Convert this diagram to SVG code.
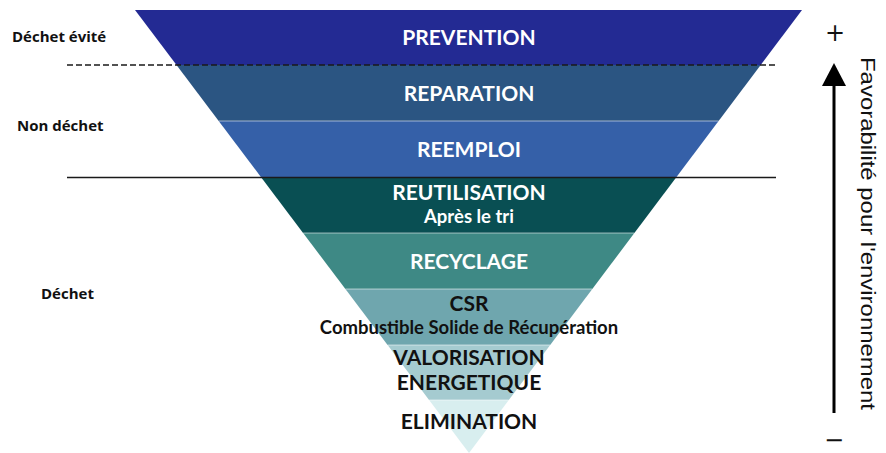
<svg xmlns="http://www.w3.org/2000/svg" width="886" height="453" viewBox="0 0 886 453">
  <style>
    .band-label { font-family: Lato, "Open Sans", sans-serif; font-weight: 700; font-size: 21px; text-anchor: middle; }
    .sub-label { font-family: Lato, "Open Sans", sans-serif; font-weight: 700; font-size: 18.5px; text-anchor: middle; }
    .light { fill: #ffffff; }
    .dark { fill: #111111; }
    .side { font-family: "Open Sans", "Liberation Sans", sans-serif; font-weight: 700; font-size: 15px; fill: #111111; }
    .sep { stroke: #ffffff; stroke-opacity: 0.55; stroke-width: 1.2; }
    .sign { font-family: "DejaVu Sans", sans-serif; font-size: 24px; text-anchor: middle; fill: #111111; }
  </style>
  <rect width="886" height="453" fill="#ffffff"/>

  <!-- pyramid bands, top to bottom -->
  <g id="prevention">
    <polygon points="135,10 802,10 760.7,65 176.5,65" fill="#232a93"/>
    <text class="band-label light" x="469" y="45">PREVENTION</text>
  </g>
  <g id="reparation">
    <polygon points="176.5,65 760.7,65 718.6,121 218.7,121" fill="#2b5582"/>
    <text class="band-label light" x="469" y="101">REPARATION</text>
  </g>
  <g id="reemploi">
    <polygon points="218.7,121 718.6,121 676.5,177 260.9,177" fill="#3560a8"/>
    <text class="band-label light" x="469" y="157">REEMPLOI</text>
  </g>
  <g id="reutilisation">
    <polygon points="260.9,177 676.5,177 634.4,233 303.1,233" fill="#094f53"/>
    <text class="band-label light" x="469" y="200">REUTILISATION</text>
    <text class="sub-label light" x="469" y="223">Après le tri</text>
  </g>
  <g id="recyclage">
    <polygon points="303.1,233 634.4,233 592.3,289 345.4,289" fill="#3e8985"/>
    <text class="band-label light" x="469" y="269">RECYCLAGE</text>
  </g>
  <g id="csr">
    <polygon points="345.4,289 592.3,289 550.2,345 387.6,345" fill="#6fa6ae"/>
    <text class="band-label dark" x="469" y="311">CSR</text>
    <text class="sub-label dark" x="469" y="334">Combustible Solide de Récupération</text>
  </g>
  <g id="valorisation">
    <polygon points="387.6,345 550.2,345 508.8,400 429.1,400" fill="#a5cbd0"/>
    <text class="band-label dark" x="469" y="365">VALORISATION</text>
    <text class="band-label dark" x="469" y="390">ENERGETIQUE</text>
  </g>
  <g id="elimination">
    <polygon points="429.1,400 508.8,400 469,453" fill="#d8eeef"/>
    <text class="band-label dark" x="469" y="429">ELIMINATION</text>
  </g>

  <!-- thin separators between bands -->
  <g id="separators">
    <line class="sep" x1="218.7" y1="121" x2="718.6" y2="121"/>
    <line class="sep" x1="303.1" y1="233" x2="634.4" y2="233"/>
    <line class="sep" x1="345.4" y1="289" x2="592.3" y2="289"/>
    <line class="sep" x1="387.6" y1="345" x2="550.2" y2="345"/>
    <line class="sep" x1="429.1" y1="400" x2="508.8" y2="400"/>
  </g>

  <!-- category boundaries -->
  <g id="connectors">
    <line x1="67" y1="65" x2="776" y2="65" stroke="#1a1a1a" stroke-width="1.6" stroke-dasharray="6 3"/>
    <line x1="67" y1="177.5" x2="776" y2="177.5" stroke="#1a1a1a" stroke-width="1.6"/>
  </g>

  <!-- category labels -->
  <g id="categories">
    <text class="side" x="12" y="42">Déchet évité</text>
    <text class="side" x="17" y="131">Non déchet</text>
    <text class="side" x="41" y="299">Déchet</text>
  </g>

  <!-- environmental preference scale -->
  <g id="scale">
    <line x1="834" y1="413" x2="834" y2="84" stroke="#000000" stroke-width="3"/>
    <polygon points="834,63 846,86 822,86" fill="#000000"/>
    <text class="sign" x="835" y="41">+</text>
    <text class="sign" x="834" y="448">−</text>
    <text transform="translate(861,57) rotate(90)" x="0" y="0" font-family="'Liberation Sans', sans-serif" font-size="20" fill="#111111" textLength="353" lengthAdjust="spacingAndGlyphs">Favorabilité pour l'environnement</text>
  </g>
</svg>
